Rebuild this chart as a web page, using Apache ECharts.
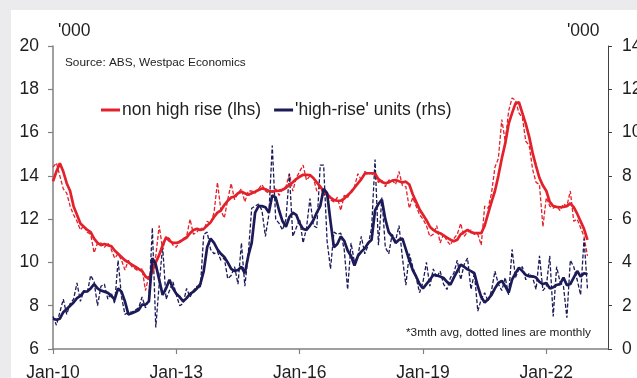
<!DOCTYPE html>
<html>
<head>
<meta charset="utf-8">
<script src="https://cdn.jsdelivr.net/npm/echarts@6/dist/echarts.min.js"></script>
<style>
html,body{margin:0;padding:0;background:#ebebed;}
#c{width:637px;height:378px;}
</style>
</head>
<body>
<div id="c"></div>
<script>
// Month categories Jan-10 .. Jul-23
var monthNames = ['Jan','Feb','Mar','Apr','May','Jun','Jul','Aug','Sep','Oct','Nov','Dec'];
var categories = [];
for (var y = 2010; y <= 2023; y++) {
  for (var mo = 0; mo < 12; mo++) {
    if (y === 2023 && mo > 6) break;
    categories.push(monthNames[mo] + '-' + String(y).slice(2));
  }
}
var tickLabels = ['Jan-10','Jan-13','Jan-16','Jan-19','Jan-22'];

// non high rise, 3mth avg ('000, lhs)
var nonHighRise3m = [
13.75,14.2,14.58,14.2,13.66,13.3,12.6,12.2,11.8,11.65,
11.5,11.4,11.1,10.9,10.8,10.85,10.8,10.75,10.55,10.4,
10.25,10.1,10.0,9.9,9.8,9.7,9.6,9.35,9.25,9.6,
10.0,10.35,10.8,11.15,11.0,10.9,10.9,10.95,11.05,11.15,
11.35,11.5,11.55,11.5,11.55,11.7,11.85,12.1,12.3,12.4,
12.65,12.85,13.0,13.05,13.2,13.27,13.2,13.12,13.2,13.27,
13.35,13.42,13.38,13.3,13.27,13.3,13.32,13.35,13.45,13.6,
13.7,13.85,13.96,14.05,14.05,14.04,13.9,13.7,13.5,13.3,
13.15,13.0,12.88,12.85,12.85,12.95,13.1,13.25,13.45,13.65,
13.85,14.1,14.12,14.12,14.1,13.85,13.72,13.66,13.7,13.78,
13.81,13.75,13.7,13.73,13.6,13.15,12.8,12.45,12.2,11.95,
11.65,11.5,11.4,11.35,11.25,11.15,11.05,10.98,11.05,11.3,
11.4,11.5,11.4,11.35,11.35,11.35,11.7,12.25,12.8,13.3,
14.0,14.8,15.5,16.4,16.9,17.35,17.4,16.9,16.4,15.8,
15.05,14.45,13.9,13.55,13.3,12.8,12.6,12.57,12.55,12.57,
12.6,12.73,12.55,12.25,11.9,11.55,11.04];

// non high rise, monthly ('000, lhs)
var nonHighRiseMonthly = [
14.4,14.6,14.0,13.4,13.2,12.6,12.2,11.9,11.5,11.7,
11.4,11.3,10.45,10.9,10.9,10.7,10.9,10.6,10.2,10.4,
10.1,9.65,10.1,9.8,9.7,9.6,9.7,8.7,9.4,9.6,
10.3,11.7,10.6,11.2,11.1,10.8,10.7,11.0,11.1,11.2,
12.0,11.3,11.4,11.6,11.5,11.9,11.8,12.3,13.7,12.4,
12.05,12.9,13.65,12.9,13.2,13.4,12.8,13.3,13.3,13.2,
13.4,13.6,13.3,13.2,13.3,13.4,13.1,13.4,13.5,14.1,
13.3,13.9,14.2,14.5,13.8,14.0,13.9,13.3,13.5,13.1,
13.2,12.9,12.8,13.0,12.4,13.1,13.0,13.3,13.5,14.1,
13.8,14.2,14.1,14.1,14.0,13.7,13.8,13.5,13.8,13.8,
13.6,14.2,13.55,13.5,12.5,13.0,12.6,12.2,12.0,11.7,
11.2,11.3,11.7,10.9,11.3,11.0,10.8,11.1,11.3,11.8,
11.2,11.4,11.5,11.3,11.3,10.8,12.6,12.5,13.2,14.4,
14.8,16.6,15.6,17.0,17.6,17.5,16.9,16.7,15.6,15.4,
14.3,13.7,13.6,11.65,13.0,12.6,12.5,12.6,12.4,12.7,
12.6,13.3,11.9,12.0,11.6,11.2,10.3];

// 'high-rise' units, 3mth avg ('000, rhs)
var highRise3m = [
1.4,1.35,1.4,1.7,1.85,2.0,2.15,2.35,2.45,2.65,
2.66,2.8,3.0,2.8,2.7,2.65,2.6,2.45,2.3,2.8,
2.65,2.2,1.6,1.65,1.72,1.8,2.05,2.05,2.2,4.2,
3.9,3.2,2.5,2.8,3.2,2.8,2.55,2.4,2.2,2.35,
2.55,2.65,2.8,3.0,3.6,4.7,5.1,4.9,4.6,4.4,
4.25,4.0,3.7,3.6,3.65,3.8,3.5,4.3,4.9,6.3,
6.6,6.6,6.55,6.3,7.1,7.0,6.4,5.9,5.65,6.1,
6.3,6.2,5.8,5.55,5.5,5.7,5.95,6.3,6.6,7.4,
7.2,5.9,4.7,4.85,5.2,5.0,4.55,4.3,3.85,4.3,
4.5,4.65,4.9,5.05,6.4,6.7,6.9,6.0,5.4,5.2,
4.9,5.05,5.1,4.6,4.1,3.65,3.35,3.0,2.8,3.0,
3.2,3.42,3.4,3.35,3.28,3.1,2.97,3.3,3.6,3.9,
3.8,3.68,3.6,3.5,2.9,2.4,2.15,2.3,2.5,2.8,
3.05,3.15,2.9,2.6,3.2,3.5,3.75,3.6,3.42,3.36,
3.36,3.3,3.1,3.0,3.05,2.8,2.85,2.96,3.0,3.3,
2.95,3.0,3.3,3.6,3.35,3.5,3.45];

// 'high-rise' units, monthly ('000, rhs)
var highRiseMonthly = [
1.5,1.1,1.7,2.3,1.6,2.1,2.3,3.05,2.2,2.7,
2.6,3.4,3.1,2.0,2.9,3.0,2.3,2.6,2.1,4.1,
2.4,1.6,1.7,1.7,1.8,1.9,2.4,1.9,2.3,5.6,
1.0,3.0,4.75,2.3,2.7,3.1,2.5,2.0,2.1,2.8,
2.4,2.7,2.9,2.8,5.3,5.4,4.6,4.4,4.5,4.1,
4.2,3.25,3.4,3.8,3.0,4.9,2.9,4.4,6.5,6.6,
6.7,6.4,5.2,6.2,9.4,6.0,5.8,5.5,6.0,8.1,
5.2,5.6,6.0,4.9,5.6,6.95,5.7,5.6,8.5,8.5,
5.0,3.7,5.4,5.3,5.35,4.6,2.75,4.9,4.0,4.3,
5.2,4.4,4.8,5.6,8.75,4.8,7.0,4.7,4.4,5.3,
5.0,5.7,4.2,2.95,4.4,3.8,3.3,2.6,3.1,4.0,
2.9,3.7,3.3,3.6,3.0,2.75,3.3,3.5,4.1,3.2,
3.9,4.2,2.75,3.5,1.75,2.3,2.6,2.2,2.7,3.6,
3.0,2.7,3.3,2.5,4.6,3.3,3.7,3.8,3.2,3.5,
3.3,2.75,4.3,2.7,2.9,4.3,1.5,3.8,3.1,2.9,
1.45,4.1,3.8,3.2,2.5,5.1,2.8];

var RED = '#e3212a';
var NAVY = '#1c1b58';
var TXT = '#1e1e1e';
var FONT = 'Liberation Sans, Arial, sans-serif';

function showTick(idx, val) { return tickLabels.indexOf(categories[idx]) >= 0; }

var chart = echarts.init(document.getElementById('c'));
chart.setOption({
  animation: false,
  backgroundColor: '#ebebed',
  textStyle: { fontFamily: FONT },
  graphic: [
    { type: 'rect', z: -10, silent: true, shape: { x: 11, y: 10, width: 626, height: 368 }, style: { fill: '#ffffff' } },
    { type: 'text', left: 58, top: 22, style: { text: "'000", font: '17.5px ' + FONT, fill: TXT } },
    { type: 'text', left: 567, top: 22, style: { text: "'000", font: '17.5px ' + FONT, fill: TXT } },
    { type: 'text', left: 65, top: 57, style: { text: 'Source: ABS, Westpac Economics', font: '11.8px ' + FONT, fill: '#222' } },
    { type: 'text', left: 406, top: 327, style: { text: '*3mth avg, dotted lines are monthly', font: '11.8px ' + FONT, fill: '#222' } }
  ],
  legend: {
    left: 96, top: 96,
    itemWidth: 19, itemHeight: 3, itemGap: 13,
    icon: 'rect',
    textStyle: { fontSize: 17.5, color: TXT, fontFamily: FONT, padding: [0, 0, 0, -3] },
    data: ['non high rise (lhs)', "'high-rise' units (rhs)"]
  },
  grid: { left: 53, right: 29, top: 46, bottom: 29, containLabel: false, outerBoundsMode: 'none' },
  xAxis: {
    type: 'category', data: categories, boundaryGap: false,
    axisLine: { lineStyle: { color: '#808080', width: 1.5 } },
    axisTick: { interval: showTick, length: 5, lineStyle: { color: '#808080', width: 1.2 } },
    axisLabel: { interval: showTick, color: TXT, fontSize: 17.5, margin: 15, fontFamily: FONT },
    splitLine: { show: false }
  },
  yAxis: [
    { type: 'value', min: 6, max: 20, interval: 2, position: 'left',
      axisLine: { show: true, lineStyle: { color: '#808080', width: 1.5 } },
      axisTick: { show: true, length: 5, lineStyle: { color: '#808080', width: 1.2 } },
      axisLabel: { color: TXT, fontSize: 17.5, margin: 14, fontFamily: FONT },
      splitLine: { show: false } },
    { type: 'value', min: 0, max: 14, interval: 2, position: 'right',
      axisLine: { show: true, lineStyle: { color: '#404040', width: 1 } },
      axisTick: { show: true, length: 4, lineStyle: { color: '#404040', width: 1 } },
      axisLabel: { color: TXT, fontSize: 17.5, margin: 14, fontFamily: FONT },
      splitLine: { show: false } }
  ],
  series: [
    { name: 'non high rise monthly', type: 'line', yAxisIndex: 0, data: nonHighRiseMonthly, symbol: 'none',
      lineStyle: { color: RED, width: 1.3, type: [4, 2] }, itemStyle: { color: RED }, z: 2 },
    { name: "'high-rise' units monthly", type: 'line', yAxisIndex: 1, data: highRiseMonthly, symbol: 'none',
      lineStyle: { color: NAVY, width: 1.3, type: [4, 2] }, itemStyle: { color: NAVY }, z: 2 },
    { name: 'non high rise (lhs)', type: 'line', yAxisIndex: 0, data: nonHighRise3m, symbol: 'none',
      lineStyle: { color: RED, width: 2.7 }, itemStyle: { color: RED }, z: 3 },
    { name: "'high-rise' units (rhs)", type: 'line', yAxisIndex: 1, data: highRise3m, symbol: 'none',
      lineStyle: { color: NAVY, width: 2.7 }, itemStyle: { color: NAVY }, z: 4 }
  ]
});
</script>
</body>
</html>
